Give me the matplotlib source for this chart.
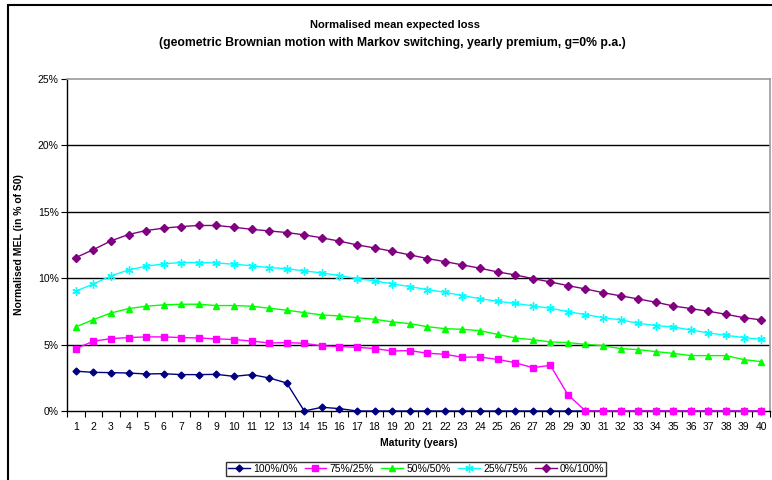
import matplotlib
matplotlib.use('Agg')
import matplotlib.pyplot as plt
from matplotlib.patches import Rectangle
import numpy as np

plt.rcParams['font.family'] = ['Liberation Sans', 'DejaVu Sans']

# values in % of S0
maturity = list(range(1, 41))
s100_0 = [3.00, 2.91, 2.89, 2.86, 2.79, 2.81, 2.74, 2.74, 2.76, 2.61,
          2.74, 2.49, 2.11, 0.00, 0.28, 0.18] + [0.0] * 24
s75_25 = [4.70, 5.25, 5.45, 5.53, 5.58, 5.58, 5.53, 5.50, 5.43, 5.38,
          5.27, 5.12, 5.15, 5.10, 4.90, 4.85, 4.80, 4.70, 4.52, 4.55,
          4.35, 4.27, 4.05, 4.07, 3.88, 3.64, 3.26, 3.44, 1.23] + [0.0] * 11
s50_50 = [6.33, 6.88, 7.38, 7.71, 7.89, 7.99, 8.04, 8.04, 7.94, 7.94,
          7.89, 7.74, 7.59, 7.41, 7.23, 7.16, 7.03, 6.91, 6.71, 6.58,
          6.35, 6.20, 6.15, 6.05, 5.77, 5.50, 5.37, 5.20, 5.15, 5.02,
          4.92, 4.70, 4.62, 4.47, 4.34, 4.17, 4.17, 4.17, 3.87, 3.72]
s25_75 = [9.02, 9.57, 10.17, 10.62, 10.90, 11.08, 11.18, 11.18, 11.15, 11.05,
          10.94, 10.80, 10.72, 10.55, 10.40, 10.20, 9.97, 9.80, 9.57, 9.37,
          9.14, 8.94, 8.69, 8.46, 8.26, 8.11, 7.91, 7.74, 7.48, 7.26,
          7.03, 6.86, 6.61, 6.43, 6.33, 6.10, 5.88, 5.70, 5.53, 5.40]
s0_100 = [11.55, 12.15, 12.81, 13.29, 13.59, 13.77, 13.89, 13.97, 13.97, 13.84,
          13.68, 13.56, 13.44, 13.26, 13.04, 12.79, 12.51, 12.28, 12.03, 11.76,
          11.48, 11.25, 11.00, 10.75, 10.47, 10.25, 9.97, 9.72, 9.44, 9.19,
          8.91, 8.67, 8.44, 8.19, 7.91, 7.71, 7.51, 7.28, 7.03, 6.86]
labels = ['100%/0%', '75%/25%', '50%/50%', '25%/75%', '0%/100%']
yticks = [0, 5, 10, 15, 20, 25]

W, H = 772, 480
fig = plt.figure(figsize=(W / 100, H / 100), dpi=100)
ax = fig.add_axes([67 / W, 1 - 411 / H, (770 - 67) / W, (411 - 79) / H])

series = [s100_0, s75_25, s50_50, s25_75, s0_100]
colors = ['#000080', '#FF00FF', '#00FF00', '#00FFFF', '#800080']
markers = ['D', 's', '^', (6, 2, 0), 'D']
msizes = [3.5, 5, 5, 6, 4]
for vals, c, m, ms, lab in zip(series, colors, markers, msizes, labels):
    ax.plot(maturity, vals, color=c, marker=m, markersize=ms, lw=1.0,
            markeredgecolor=c, markerfacecolor=c, markeredgewidth=1.0,
            label=lab, clip_on=False, zorder=3)

ax.set_xlim(0.5, 40.5)
ax.set_ylim(0, 25)
ax.set_yticks(yticks)
ax.set_yticklabels(['%d%%' % v for v in yticks], fontsize=7.5)
ax.set_xticks(maturity)
ax.set_xticklabels([str(m) for m in maturity], fontsize=7.5)
ax.set_xticks(np.arange(0.5, 41, 1), minor=True)
ax.tick_params(axis='x', which='major', length=0, pad=8)
ax.tick_params(axis='x', which='minor', length=4, direction='out', width=0.8)
ax.tick_params(axis='y', length=4, direction='out', width=0.8, pad=2)

for v in yticks[1:-1]:
    ax.axhline(v, color='black', lw=1.0, zorder=1)

for side in ['top', 'right']:
    ax.spines[side].set_color('#999999')
    ax.spines[side].set_linewidth(1.2)
ax.spines['left'].set_linewidth(1.0)
ax.spines['bottom'].set_linewidth(1.0)

ax.set_xlabel('Maturity (years)', fontsize=7.5, fontweight='bold', labelpad=4)
ax.set_ylabel('Normalised MEL (in % of S0)', fontsize=7.5, fontweight='bold', labelpad=10)

fig.text(395 / W, 1 - 25 / H, 'Normalised mean expected loss', ha='center', va='center',
         fontsize=8, fontweight='bold')
fig.text(392 / W, 1 - 43 / H,
         '(geometric Brownian motion with Markov switching, yearly premium, g=0% p.a.)',
         ha='center', va='center', fontsize=8.8, fontweight='bold')

leg = fig.legend(loc='center', bbox_to_anchor=(416 / W, 1 - 469 / H), ncol=5,
                 fontsize=7.5, frameon=True, fancybox=False, edgecolor='black',
                 handlelength=2.1, handletextpad=0.3, columnspacing=0.7,
                 borderpad=0.2, borderaxespad=0)
leg.get_frame().set_linewidth(1.0)

# outer chart border
fig.add_artist(Rectangle((8 / W, -0.1), 1.2, 1 - 4.5 / H + 0.1, transform=fig.transFigure,
                         fill=False, edgecolor='black', lw=1.5))

fig.savefig('out.png', dpi=100)
